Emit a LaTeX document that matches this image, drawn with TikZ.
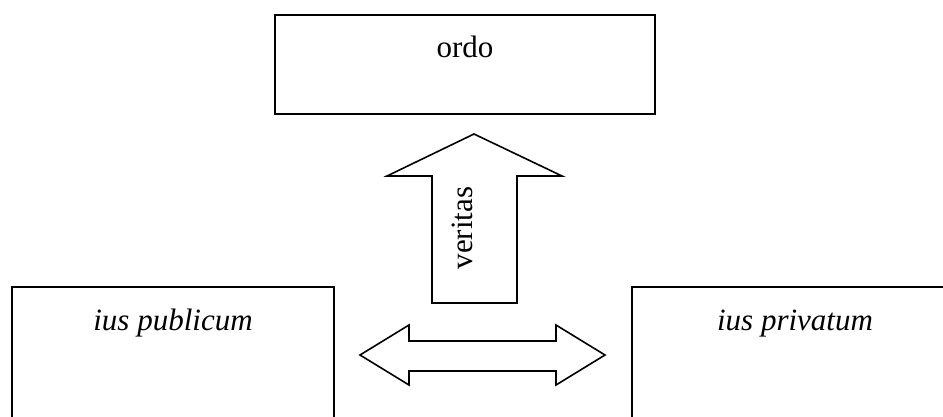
\documentclass[tikz,border=0pt]{standalone}
\usepackage{fontspec}
\setmainfont{Liberation Serif}
\begin{document}
\begin{tikzpicture}[x=1pt,y=-1pt,
  box/.style={draw=black,line width=1.6pt,rectangle,inner sep=0pt},
  blockarrow/.style={draw=black,line width=1.6pt,line join=miter,fill=white},
  lbl/.style={font=\fontsize{31}{36}\selectfont,inner sep=0pt}]
\useasboundingbox (0,0) rectangle (943,416);
\clip (0,0) rectangle (943,416);
% boxes
\node[box,minimum width=380pt,minimum height=99pt] (ordo) at (465,64.5) {};
\node[box,minimum width=322pt,minimum height=200pt] (pub) at (173,387) {};
\node[box,minimum width=326pt,minimum height=200pt] (priv) at (795,387) {};
% texts
\node[lbl,anchor=base] (ordotxt) at (465,57) {ordo};
\node[lbl,anchor=base] (pubtxt) at (173,330) {\itshape ius publicum};
\node[lbl,anchor=base] (privtxt) at (795,330) {\itshape ius privatum};
% up arrow
\draw[blockarrow] (432,303) -- (432,176) -- (387,176) -- (474,134) -- (562,176) -- (517,176) -- (517,303) -- cycle;
\node[lbl,rotate=90,anchor=base] (veritas) at (472,228) {veritas};
% double arrow
\draw[blockarrow] (360,355) -- (409,325) -- (409,341) -- (556,341) -- (556,325) -- (605,355) -- (556,385) -- (556,371) -- (409,371) -- (409,385) -- cycle;
\end{tikzpicture}
\end{document}
